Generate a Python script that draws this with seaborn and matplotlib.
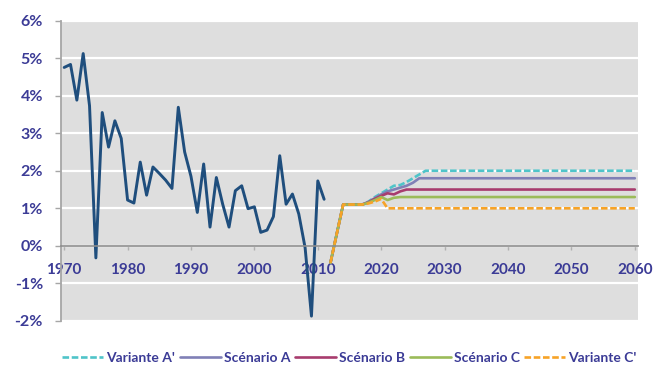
import matplotlib
matplotlib.use('Agg')
import pandas as pd
import matplotlib.pyplot as plt
import seaborn as sns

# observed productivity growth, % per year
hist_years = list(range(1970, 2012))
hist_growth = [4.75, 4.83, 3.88, 5.12, 3.73, -0.32, 3.55, 2.63, 3.33, 2.86,
               1.22, 1.14, 2.23, 1.35, 2.10, 1.93, 1.75, 1.53, 3.69, 2.50,
               1.85, 0.89, 2.18, 0.50, 1.82, 1.11, 0.50, 1.47, 1.60, 0.99,
               1.04, 0.36, 0.42, 0.78, 2.40, 1.11, 1.38, 0.85, -0.05, -1.87,
               1.73, 1.24]

# projections (long-run level held to 2060)
proj_years = list(range(2012, 2028)) + [2060]
variante_a2 = [-0.45, 0.33, 1.1, 1.1, 1.1, 1.1, 1.18, 1.30, 1.40, 1.50, 1.60, 1.62, 1.70, 1.80, 1.90, 2.0, 2.0]
scenario_a = [-0.45, 0.33, 1.1, 1.1, 1.1, 1.1, 1.17, 1.27, 1.37, 1.45, 1.50, 1.55, 1.60, 1.68, 1.80, 1.8, 1.8]
scenario_b = [-0.45, 0.33, 1.1, 1.1, 1.1, 1.1, 1.16, 1.25, 1.33, 1.40, 1.37, 1.45, 1.50, 1.50, 1.50, 1.5, 1.5]
scenario_c = [-0.45, 0.33, 1.1, 1.1, 1.1, 1.1, 1.15, 1.22, 1.30, 1.22, 1.28, 1.30, 1.30, 1.30, 1.30, 1.3, 1.3]
variante_c2 = [-0.45, 0.33, 1.1, 1.1, 1.1, 1.1, 1.13, 1.18, 1.25, 1.00, 1.00, 1.00, 1.00, 1.00, 1.00, 1.0, 1.0]

names = ["Variante A'", "Scénario A", "Scénario B", "Scénario C", "Variante C'"]
series = [variante_a2, scenario_a, scenario_b, scenario_c, variante_c2]
colors = ['#4fc4c9', '#8080b6', '#a83c6e', '#9bbb59', '#f7a327']
dash_styles = [(2.5, 1), '', '', '', (2.5, 1)]

text_color = '#3b3b96'

sns.set_theme(style='darkgrid', rc={'axes.facecolor': '#dedede',
                                     'figure.facecolor': 'white',
                                     'grid.color': 'white',
                                     'grid.linewidth': 1.6})
plt.rcParams['font.family'] = ['Lato', 'DejaVu Sans']

fig, ax = plt.subplots(figsize=(6.62, 3.76), dpi=100)
fig.subplots_adjust(left=61 / 662, right=638 / 662, top=1 - 20.5 / 376, bottom=1 - 321 / 376)

hist = pd.DataFrame({'year': hist_years, 'value': hist_growth})
sns.lineplot(data=hist, x='year', y='value', color='#1f4e7d', lw=2.1, ax=ax, legend=False)

proj = pd.concat([pd.DataFrame({'year': proj_years, 'value': v, 'serie': n})
                  for n, v in zip(names, series)])
sns.lineplot(data=proj, x='year', y='value', hue='serie', style='serie',
             hue_order=names, style_order=names,
             palette=dict(zip(names, colors)), dashes=dict(zip(names, dash_styles)),
             lw=1.9, estimator=None, ax=ax, legend=False)

ax.set_xlim(1969.5, 2060.5)
ax.set_xticks(range(1970, 2061, 10))
ax.set_ylim(-2, 6)
ax.set_yticks(range(-2, 7))
ax.yaxis.set_major_formatter(lambda v, p: f'{v:.0f}%')
ax.set_xlabel('')
ax.set_ylabel('')
ax.grid(axis='x', visible=False)

for side in ['top', 'right']:
    ax.spines[side].set_visible(False)
ax.spines['left'].set_color('#a6a6a6')
ax.spines['left'].set_linewidth(1.3)
ax.spines['bottom'].set_position(('data', 0))
ax.spines['bottom'].set_color('#8c8c8c')
ax.spines['bottom'].set_linewidth(1.2)

ax.tick_params(axis='x', bottom=True, length=3, width=1, color='#b0b0b0',
               pad=9, labelsize=11, labelcolor=text_color)
ax.tick_params(axis='y', left=True, length=4, width=1, color='#a6a6a6',
               pad=9, labelsize=11.5, labelcolor=text_color)
plt.setp(ax.get_xticklabels() + ax.get_yticklabels(), fontweight='bold')

fig.legend(ax.lines[1:6], names, loc='center', bbox_to_anchor=(349.5 / 662, 0.048),
           ncol=5, frameon=False, labelcolor=text_color,
           prop={'size': 10, 'weight': 'bold'},
           handlelength=2.95, handletextpad=0.2, columnspacing=0.35)

fig.savefig('out.png', dpi=100)
plt.close()
